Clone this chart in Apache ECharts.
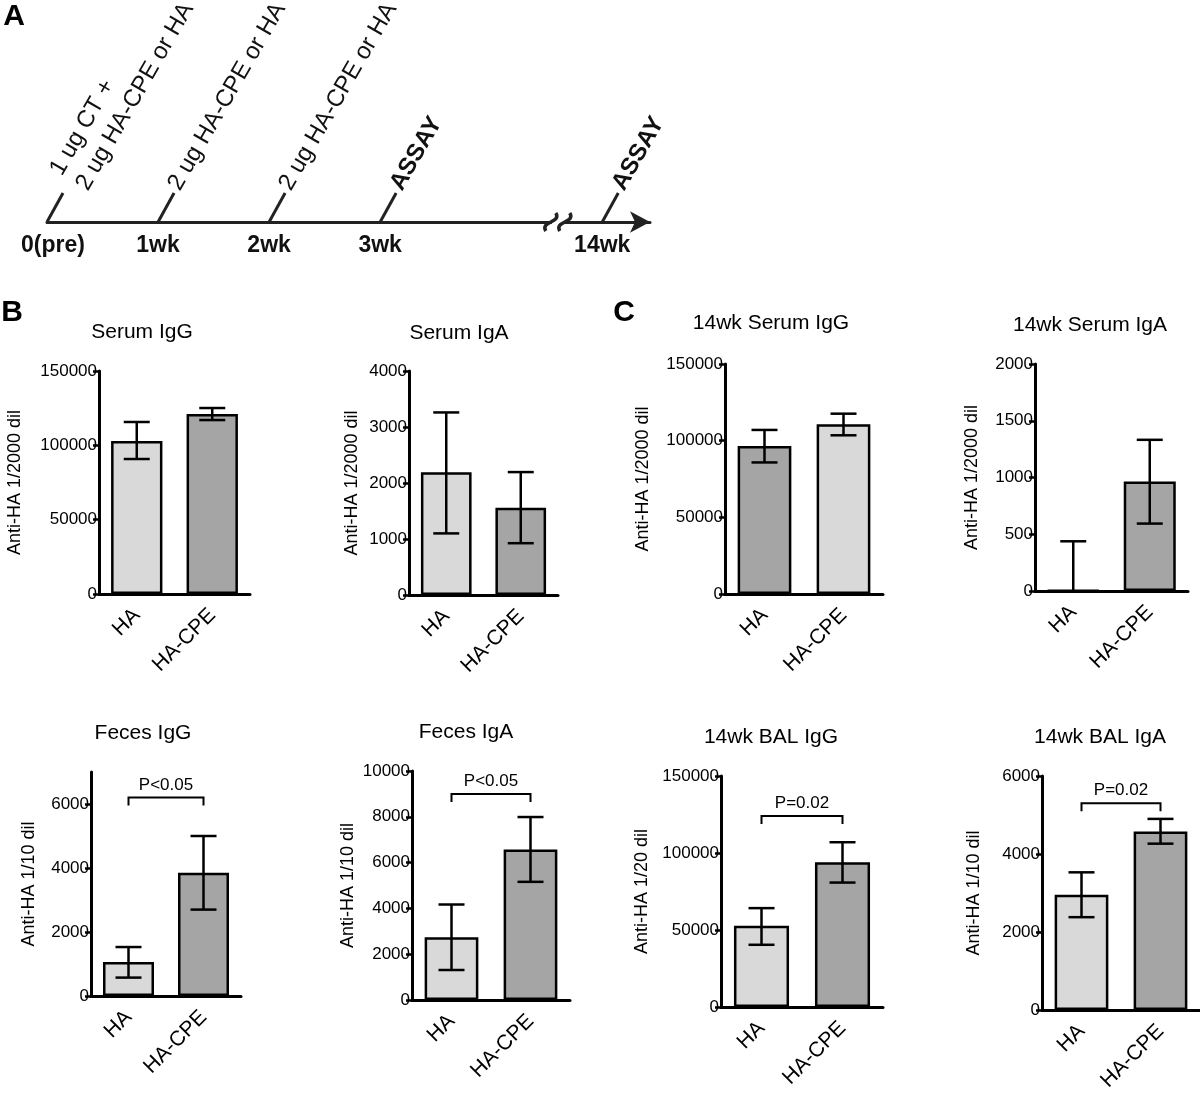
<!DOCTYPE html>
<html lang="en">
<head>
<meta charset="UTF-8">
<title>Anti-HA titres</title>
<script src="https://cdn.jsdelivr.net/npm/echarts@6/dist/echarts.min.js"></script>
<style>html,body{margin:0;padding:0;background:#fff;}</style>
</head>
<body>
<div id="main" style="width:1200px;height:1094px;"></div>
<script type="text/javascript">
    var FONT = '"Liberation Sans", Arial, sans-serif';
    var LIGHT = '#d9d9d9', DARK = '#a5a5a5';

    // panel A: immunisation timeline
    var timeLabels = ['0(pre)', '1wk', '2wk', '3wk', '', '14wk'];
    var doseSlots = [0, 1, 2, 3, 5];
    var doseTexts = ['1 ug CT +\n2 ug HA-CPE or HA', '2 ug HA-CPE or HA', '2 ug HA-CPE or HA', 'ASSAY', 'ASSAY'];
    var breakSlot = 4.6;

    // panels B and C
    var groups = ['HA', 'HA-CPE'];
    var titles = ['Serum IgG', 'Serum IgA', '14wk Serum IgG', '14wk Serum IgA',
                  'Feces IgG', 'Feces IgA', '14wk BAL IgG', '14wk BAL IgA'];
    var yNames = ['Anti-HA 1/2000 dil', 'Anti-HA 1/2000 dil', 'Anti-HA 1/2000 dil', 'Anti-HA 1/2000 dil',
                  'Anti-HA 1/10 dil', 'Anti-HA 1/10 dil', 'Anti-HA 1/20 dil', 'Anti-HA 1/10 dil'];
    var yMax = [150000, 4000, 150000, 2000, 7000, 10000, 150000, 6000];
    var yTicks = [
        [0, 50000, 100000, 150000],
        [0, 1000, 2000, 3000, 4000],
        [0, 50000, 100000, 150000],
        [0, 500, 1000, 1500, 2000],
        [0, 2000, 4000, 6000],
        [0, 2000, 4000, 6000, 8000, 10000],
        [0, 50000, 100000, 150000],
        [0, 2000, 4000, 6000]
    ];

    // bar heights (HA, HA-CPE) and error bar [low, high]
    var serumIgG = [102900, 121000];
    var serumIgGErr = [[90800, 115700], [117000, 125100]];
    var serumIgA = [2190, 1560];
    var serumIgAErr = [[1100, 3260], [925, 2195]];
    var wk14SerumIgG = [96600, 110700];
    var wk14SerumIgGErr = [[85800, 107000], [103500, 117600]];
    var wk14SerumIgA = [5, 965];
    var wk14SerumIgAErr = [[-430, 438], [594, 1332]];
    var fecesIgG = [1065, 3855];
    var fecesIgGErr = [[575, 1530], [2700, 5000]];
    var fecesIgA = [2735, 6570];
    var fecesIgAErr = [[1310, 4170], [5160, 7990]];
    var balIgG = [52700, 94000];
    var balIgGErr = [[40400, 64200], [80800, 107000]];
    var balIgA = [2955, 4580];
    var balIgAErr = [[2380, 3530], [4265, 4900]];

    // significance brackets
    var sigLevel = [null, null, null, null, 6200, 9000, 124000, 5300];
    var sigText = ['', '', '', '', 'P<0.05', 'P<0.05', 'P=0.02', 'P=0.02'];

    var means = [serumIgG, serumIgA, wk14SerumIgG, wk14SerumIgA, fecesIgG, fecesIgA, balIgG, balIgA];
    var errs = [serumIgGErr, serumIgAErr, wk14SerumIgGErr, wk14SerumIgAErr, fecesIgGErr, fecesIgAErr, balIgGErr, balIgAErr];
    var barColors = [[LIGHT, DARK], [LIGHT, DARK], [DARK, LIGHT], [LIGHT, DARK],
                     [LIGHT, DARK], [LIGHT, DARK], [LIGHT, DARK], [LIGHT, DARK]];

    // layout: grid left, top, width, height, y name gap
    var boxes = [
        [99, 371, 151, 223, 75],
        [409, 371, 149, 224, 48],
        [725, 364, 158, 230, 73],
        [1035, 364, 153, 227, 54],
        [91, 772, 150, 224, 53],
        [412, 771, 158, 229, 55],
        [721, 776, 162, 231, 70],
        [1042, 776, 158, 234, 59]
    ];
    var titlePos = [[142, 332], [459, 333], [771, 323], [1090, 325],
                    [143, 733], [466, 732], [771, 737], [1100, 737]];

    function seg(x1, y1, x2, y2, w, c) {
        return {type: 'line', shape: {x1: x1, y1: y1, x2: x2, y2: y2},
                style: {stroke: c || '#000', lineWidth: w || 2.5}};
    }

    function renderErr(params, api) {
        var x = api.value(0), lo = api.value(1), hi = api.value(2);
        var top = api.coord([x, hi]);
        var bot = api.coord([x, Math.max(lo, 0)]);
        var w = 13;
        var kids = [seg(top[0], top[1], bot[0], bot[1]), seg(top[0] - w, top[1], top[0] + w, top[1])];
        if (lo >= 0) kids.push(seg(bot[0] - w, bot[1], bot[0] + w, bot[1]));
        return {type: 'group', children: kids};
    }

    function renderSig(params, api) {
        var p0 = api.coord([api.value(0), api.value(2)]);
        var p1 = api.coord([api.value(1), api.value(2)]);
        var k = api.value(3);
        return {type: 'group', children: [
            {type: 'polyline', shape: {points: [[p0[0], p0[1] + 8], [p0[0], p0[1]], [p1[0], p1[1]], [p1[0], p1[1] + 8]]},
             style: {stroke: '#000', lineWidth: 2, fill: null}},
            {type: 'text', x: (p0[0] + p1[0]) / 2, y: p0[1] - 4,
             style: {text: sigText[k], fill: '#000', font: '17px ' + FONT, align: 'center', verticalAlign: 'bottom'}}
        ]};
    }

    var grids = [], xAxes = [], yAxes = [], series = [], graphics = [];

    // timeline grid
    grids.push({left: 47, top: 100, width: 603, height: 122});
    xAxes.push({
        type: 'value', gridIndex: 0, min: 0, max: 5.43, interval: 1,
        axisLine: {lineStyle: {color: '#222', width: 3}, symbol: ['none', 'arrow'], symbolSize: [16, 20]},
        axisTick: {show: false}, splitLine: {show: false},
        axisLabel: {
            formatter: function (v) {
                var t = timeLabels[v] || '';
                return v === 0 ? '{first|' + t + '}' : t;
            },
            rich: {first: {padding: [0, 0, 0, 12], fontSize: 23, fontWeight: 'bold', color: '#111', fontFamily: FONT}},
            showMaxLabel: false, fontSize: 23, fontWeight: 'bold', color: '#111', margin: 12, fontFamily: FONT
        }
    });
    yAxes.push({type: 'value', gridIndex: 0, min: 0, max: 1, show: false});
    series.push({
        type: 'custom', xAxisIndex: 0, yAxisIndex: 0,
        data: doseSlots.map(function (s, i) { return [s, i]; }),
        renderItem: function (params, api) {
            var p = api.coord([api.value(0), 0]);
            var text = doseTexts[api.value(1)];
            var multi = text.indexOf('\n') >= 0;
            var tx = p[0] + 16, ty = p[1] - 29;
            return {type: 'group', children: [
                seg(p[0], p[1], tx, ty, 3, '#222'),
                {type: 'text', x: tx + (multi ? 32 : 13), y: ty + 3, rotation: Math.PI / 3,
                 style: {text: text, fill: '#111', align: 'left', verticalAlign: 'bottom', lineHeight: 30,
                         font: (text === 'ASSAY' ? 'bold ' : '') + '24px ' + FONT}}
            ]};
        }
    });
    series.push({
        type: 'custom', xAxisIndex: 0, yAxisIndex: 0, data: [[breakSlot]],
        renderItem: function (params, api) {
            var p = api.coord([api.value(0), 0]);
            var x = p[0], y = p[1];
            function squiggle(cx) {
                return {type: 'bezierCurve',
                        shape: {x1: cx - 5, y1: y + 9, cpx1: cx - 11, cpy1: y - 1, cpx2: cx + 11, cpy2: y + 1, x2: cx + 5, y2: y - 9},
                        style: {stroke: '#222', lineWidth: 3.5, fill: null}};
            }
            return {type: 'group', children: [
                {type: 'rect', shape: {x: x - 6, y: y - 3, width: 12, height: 6}, style: {fill: '#fff'}},
                squiggle(x - 7), squiggle(x + 7)
            ]};
        }
    });

    for (var k = 0; k < 8; k++) {
        var g = k + 1, b = boxes[k];
        grids.push({left: b[0], top: b[1], width: b[2], height: b[3]});
        xAxes.push({
            type: 'category', gridIndex: g, data: groups,
            axisLine: {lineStyle: {color: '#000', width: 3}},
            axisTick: {alignWithLabel: true, length: 8, lineStyle: {width: 3, color: '#000'}},
            axisLabel: {rotate: 45, fontSize: 21, color: '#000', margin: 18, fontFamily: FONT}
        });
        yAxes.push({
            type: 'value', gridIndex: g, min: 0, max: yMax[k],
            name: yNames[k], nameLocation: 'middle', nameGap: b[4],
            nameTextStyle: {fontSize: 18, color: '#000', fontFamily: FONT},
            axisLine: {show: true, lineStyle: {color: '#000', width: 3}},
            axisTick: {show: true, length: 6, lineStyle: {width: 2.5, color: '#000'}, customValues: yTicks[k]},
            axisLabel: {customValues: yTicks[k], formatter: function (v) { return String(v); },
                        fontSize: 17, color: '#000', margin: 2, fontFamily: FONT},
            splitLine: {show: false}
        });
        series.push({
            type: 'bar', xAxisIndex: g, yAxisIndex: g, barWidth: '68%',
            data: means[k].map(function (v, i) { return {value: v, itemStyle: {color: barColors[k][i]}}; }),
            itemStyle: {borderColor: '#000', borderWidth: 2.5}
        });
        series.push({
            type: 'custom', xAxisIndex: g, yAxisIndex: g, z: 3,
            data: errs[k].map(function (e, i) { return [i, e[0], e[1]]; }),
            encode: {x: 0, y: [1, 2]},
            renderItem: renderErr
        });
        if (sigLevel[k] != null) {
            series.push({
                type: 'custom', xAxisIndex: g, yAxisIndex: g, z: 3,
                data: [[0, 1, sigLevel[k], k]],
                encode: {x: [0, 1], y: 2},
                renderItem: renderSig
            });
        }
        graphics.push({type: 'text', x: titlePos[k][0], y: titlePos[k][1],
                       style: {text: titles[k], fill: '#000', font: '21px ' + FONT, align: 'center', verticalAlign: 'middle'}});
    }

    var letters = [['A', 14, 17], ['B', 12, 313], ['C', 624, 313]];
    letters.forEach(function (l) {
        graphics.push({type: 'text', x: l[1], y: l[2],
                       style: {text: l[0], fill: '#000', font: 'bold 30px ' + FONT, align: 'center', verticalAlign: 'middle'}});
    });

    var myChart = echarts.init(document.getElementById('main'));
    myChart.setOption({
        animation: false,
        backgroundColor: '#fff',
        textStyle: {fontFamily: FONT},
        grid: grids,
        xAxis: xAxes,
        yAxis: yAxes,
        series: series,
        graphic: graphics
    });
</script>
</body>
</html>
